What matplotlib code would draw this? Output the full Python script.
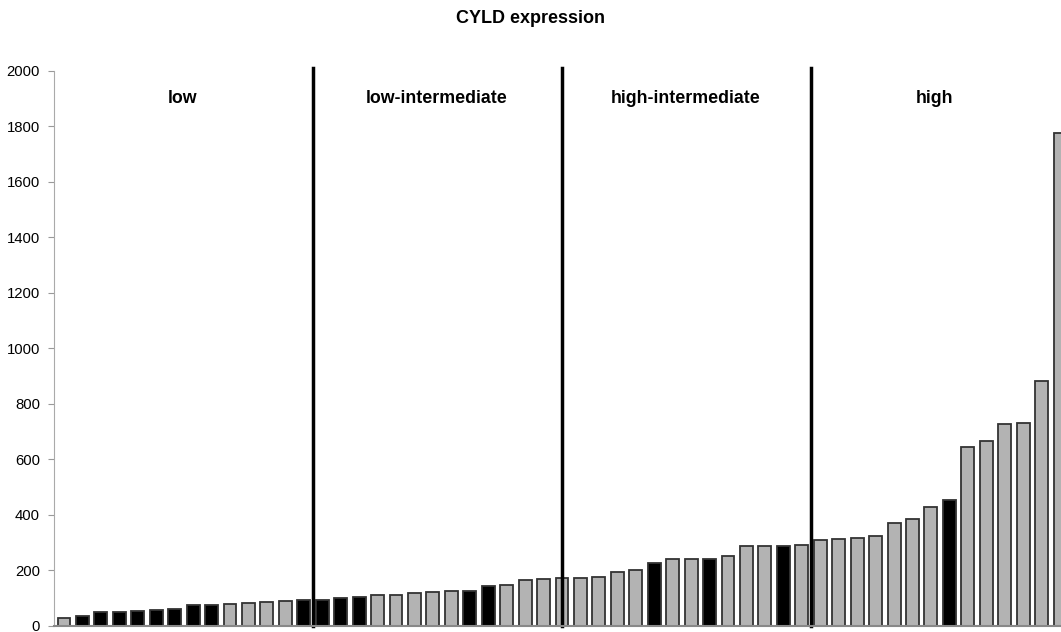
import matplotlib.pyplot as plt
import numpy as np

plt.rcParams["font.family"] = ["Liberation Sans", "DejaVu Sans"]

values = [30, 36, 49, 51, 53, 58, 60, 74, 77, 79, 84, 85, 91, 94, 94, 100, 105,
          112, 113, 119, 122, 126, 127, 145, 148, 166, 169, 172, 173, 178, 193, 200,
          226, 240, 240, 242, 252, 288, 288, 290, 293, 309, 312, 318, 324, 372, 385,
          427, 455, 645, 668, 727, 730, 883, 1775]
# 1 = black bar, 0 = grey bar
dark = [0, 1, 1, 1, 1, 1, 1, 1, 1, 0, 0, 0, 0, 1, 1, 1, 1,
        0, 0, 0, 0, 0, 1, 1, 0, 0, 0, 0, 0, 0, 0, 0,
        1, 0, 0, 1, 0, 0, 0, 1, 0, 0, 0, 0, 0, 0, 0,
        0, 1, 0, 0, 0, 0, 0, 0]
groups = ["low", "low-intermediate", "high-intermediate", "high"]
group_pos = [6.4, 20.2, 33.7, 47.2]
cuts = [13.5, 27, 40.5]

x = np.arange(len(values))
colors = ["black" if d else "#b3b3b3" for d in dark]

fig = plt.figure(figsize=(10.61, 6.32), dpi=100)
ax = fig.add_axes([0.0509, 0.0095, 0.9491, 0.8782])
ax.bar(x, values, width=0.7, color=colors, edgecolor="#333333", linewidth=1.3)

for c in cuts:
    ax.plot([c, c], [0, 2010], color="black", linewidth=2.5, clip_on=False)
for g, p in zip(groups, group_pos):
    ax.text(p, 1900, g, ha="center", va="center", fontsize=12.8, fontweight="bold")

ax.set_xlim(-0.54, 54.05)
ax.set_ylim(0, 2000)
ax.set_yticks(range(0, 2001, 200))
ax.set_xticks([])
ax.tick_params(axis="y", labelsize=10.7, length=4, color="#999999", pad=6)
for s in ["top", "right"]:
    ax.spines[s].set_visible(False)
ax.spines["left"].set_color("#aaaaaa")
ax.spines["bottom"].set_color("#888888")
ax.spines["bottom"].set_linewidth(1.5)

fig.text(0.5, 0.97, "CYLD expression", ha="center", va="center",
         fontsize=13, fontweight="bold")

fig.savefig("out.png", dpi=100)
